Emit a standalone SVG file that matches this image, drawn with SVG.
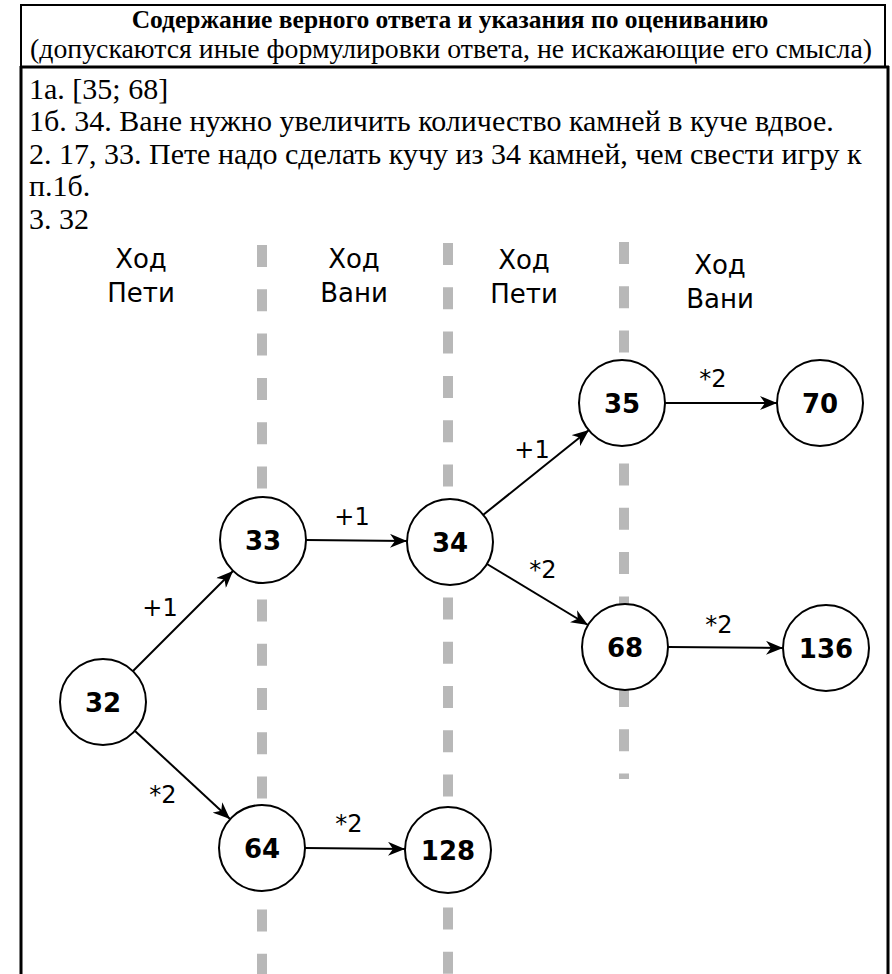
<svg xmlns="http://www.w3.org/2000/svg" width="892" height="974" viewBox="0 0 892 974">
<style>
.hdr{font-family:"Liberation Serif","Times New Roman",serif;fill:#000;text-anchor:middle}
.body{font-family:"Liberation Serif","Times New Roman",serif;font-size:30px;fill:#000}
.col{font-family:"DejaVu Sans",sans-serif;font-size:26px;fill:#000;text-anchor:middle}
.node circle{fill:#fff;stroke:#000;stroke-width:2}
.node text{font-family:"DejaVu Sans",sans-serif;font-weight:bold;font-size:26px;fill:#000;text-anchor:middle}
.edge{stroke:#000;stroke-width:2;fill:none;marker-end:url(#arr)}
.elab{font-family:"DejaVu Sans",sans-serif;font-size:24px;fill:#000;text-anchor:middle}
.lane{stroke:#b8b8b8;stroke-width:10;stroke-dasharray:22 22.3;fill:none}
.frame{stroke:#000;fill:none}
</style>
<defs>
<marker id="arr" markerUnits="userSpaceOnUse" markerWidth="18" markerHeight="14" refX="17" refY="7" orient="auto">
<path d="M0,0 L17,7 L0,14 L5,7 z" fill="#000"/>
</marker>
</defs>
<rect width="892" height="974" fill="#fff"/>
<g id="frame">
<rect class="frame" x="21" y="5" width="864" height="62" stroke-width="2"/>
<line class="frame" x1="21" y1="67" x2="889" y2="67" stroke-width="3"/>
<line class="frame" x1="21" y1="66" x2="21" y2="974" stroke-width="3"/>
<line class="frame" x1="888" y1="66" x2="888" y2="974" stroke-width="3"/>
</g>
<g id="header">
<text class="hdr" x="450" y="28" font-size="25.5" font-weight="bold">Содержание верного ответа и указания по оцениванию</text>
<text class="hdr" x="451" y="58" font-size="27" textLength="842" lengthAdjust="spacingAndGlyphs">(допускаются иные формулировки ответа, не искажающие его смысла)</text>
</g>
<g id="answers">
<text class="body" x="29" y="98.5">1а. [35; 68]</text>
<text class="body" x="29" y="131">1б. 34. Ване нужно увеличить количество камней в куче вдвое.</text>
<text class="body" x="29" y="163.5">2. 17, 33. Пете надо сделать кучу из 34 камней, чем свести игру к</text>
<text class="body" x="29" y="196">п.1б.</text>
<text class="body" x="29" y="228.5">3. 32</text>
</g>
<g id="lanes">
<line class="lane" x1="262" y1="245" x2="262" y2="974"/>
<line class="lane" x1="448" y1="243" x2="448" y2="974"/>
<line class="lane" x1="624" y1="242" x2="624" y2="779"/>
</g>
<g id="column-labels">
<text class="col" x="141" y="268">Ход</text>
<text class="col" x="141" y="302">Пети</text>
<text class="col" x="354" y="268">Ход</text>
<text class="col" x="354" y="302">Вани</text>
<text class="col" x="524" y="269">Ход</text>
<text class="col" x="524" y="303">Пети</text>
<text class="col" x="720" y="274">Ход</text>
<text class="col" x="720" y="308">Вани</text>
</g>
<g id="connectors">
<line class="edge" x1="133" y1="671" x2="233" y2="571"/>
<line class="edge" x1="135" y1="731" x2="230" y2="819"/>
<line class="edge" x1="306" y1="540" x2="407" y2="541"/>
<line class="edge" x1="483" y1="515" x2="589" y2="430"/>
<line class="edge" x1="487" y1="564" x2="588" y2="625"/>
<line class="edge" x1="665" y1="403" x2="777" y2="403"/>
<line class="edge" x1="668" y1="647" x2="783" y2="648"/>
<line class="edge" x1="305" y1="848" x2="405" y2="849"/>
<text class="elab" x="160" y="616">+1</text>
<text class="elab" x="163" y="803">*2</text>
<text class="elab" x="352" y="525">+1</text>
<text class="elab" x="532" y="458">+1</text>
<text class="elab" x="543" y="578">*2</text>
<text class="elab" x="713" y="387">*2</text>
<text class="elab" x="719" y="633">*2</text>
<text class="elab" x="349" y="832">*2</text>
</g>
<g id="n32" class="node"><circle cx="103" cy="702" r="43"/><text x="103" y="712">32</text></g>
<g id="n33" class="node"><circle cx="263" cy="540" r="43"/><text x="263" y="550">33</text></g>
<g id="n34" class="node"><circle cx="450" cy="542" r="43"/><text x="450" y="552">34</text></g>
<g id="n35" class="node"><circle cx="622" cy="403" r="43"/><text x="622" y="413">35</text></g>
<g id="n70" class="node"><circle cx="820" cy="403" r="43"/><text x="820" y="413">70</text></g>
<g id="n68" class="node"><circle cx="625" cy="647" r="43"/><text x="625" y="657">68</text></g>
<g id="n136" class="node"><circle cx="826" cy="648" r="43"/><text x="826" y="658">136</text></g>
<g id="n64" class="node"><circle cx="262" cy="848" r="43"/><text x="262" y="858">64</text></g>
<g id="n128" class="node"><circle cx="448" cy="850" r="43"/><text x="448" y="860">128</text></g>
</svg>
